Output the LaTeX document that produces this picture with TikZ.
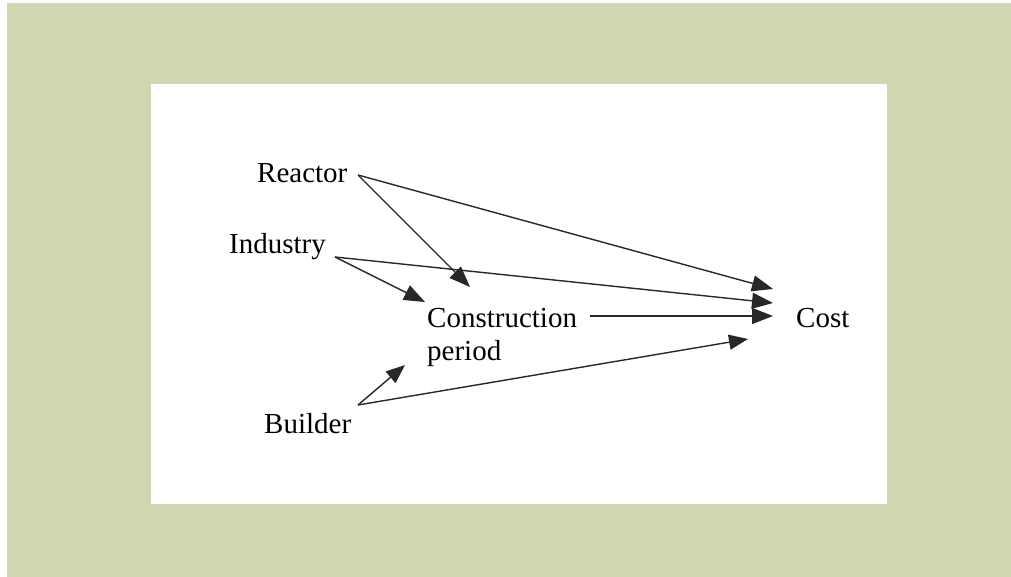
\documentclass[tikz,border=0pt]{standalone}
\usepackage{fontspec}
\setmainfont{Liberation Serif}
\usetikzlibrary{arrows.meta}
\definecolor{bgreen}{RGB}{207,214,176}
\definecolor{ink}{RGB}{40,40,40}
\begin{document}
\begin{tikzpicture}[x=1pt,y=-1pt,
  lbl/.style={inner sep=0pt,font=\fontsize{29}{33}\selectfont,text=black},
  arr/.style={draw=ink,line width=1.4pt,-{Triangle[length=21pt,width=16pt,fill=ink]}},
  arrs/.style={draw=ink,line width=1.4pt,-{Triangle[length=19pt,width=15pt,fill=ink]}}]
\useasboundingbox (0,0) rectangle (1011,577);
\fill[white] (0,0) rectangle (1011,577);
\fill[bgreen] (7,3) rectangle (1011,577);
\fill[white] (151,84) rectangle (887,504);

\node[lbl,anchor=base west] (reactor) at (257,183) {Reactor};
\node[lbl,anchor=base west] (industry) at (229,254) {Industry};
\node[lbl,anchor=base west,align=left] (constr) at (427,360) {Construction\\period};
\node[lbl,anchor=base west] (cost) at (796,327) {Cost};
\node[lbl,anchor=base west] (builder) at (264,433) {Builder};

\coordinate (rs) at (358,175);
\coordinate (is) at (335,257);
\coordinate (bs) at (358,405);
\coordinate (cs) at (590,316);
\coordinate (costA) at (773,289);
\coordinate (costB) at (773,303);
\coordinate (costC) at (773,316);
\coordinate (costD) at (748,339);
\coordinate (conA) at (470,287);
\coordinate (conB) at (425,302);
\coordinate (conC) at (405,365);

\draw[arr] (rs) -- (costA);
\draw[arr] (rs) -- (conA);
\draw[arr] (is) -- (costB);
\draw[arr] (is) -- (conB);
\draw[arr] (cs) -- (costC);
\draw[arrs] (bs) -- (conC);
\draw[arrs] (bs) -- (costD);
\end{tikzpicture}
\end{document}
